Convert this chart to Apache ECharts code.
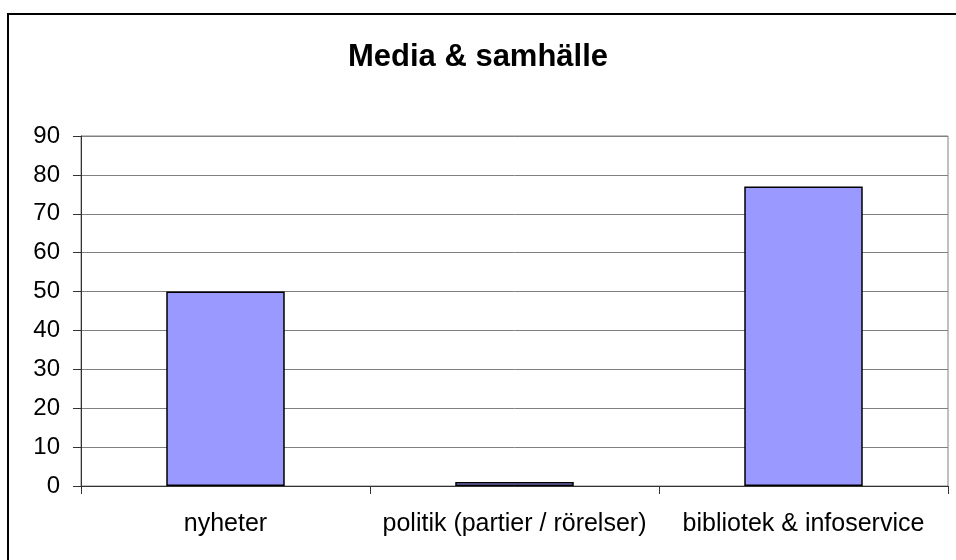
<!DOCTYPE html>
<html>
<head>
<meta charset="utf-8">
<script src="https://cdn.jsdelivr.net/npm/echarts@6/dist/echarts.min.js"></script>
<style>
  html, body { margin: 0; padding: 0; background: #fff; }
  #chart { width: 956px; height: 560px; }
</style>
</head>
<body>
<div id="chart"></div>
<script>
// Chart content
const chartTitle = 'Media & samhälle';
const categories = ['nyheter', 'politik (partier / rörelser)', 'bibliotek & infoservice'];
const values = [50, 1, 77];
const yTicks = [0, 10, 20, 30, 40, 50, 60, 70, 80, 90];

const FONT = '"Liberation Sans", Arial, sans-serif';

const chart = echarts.init(document.getElementById('chart'), null, { renderer: 'canvas' });

chart.setOption({
  backgroundColor: '#ffffff',
  animation: false,
  title: {
    text: chartTitle,
    left: 'center',
    top: 37,
    textStyle: { fontFamily: FONT, fontSize: 31, fontWeight: 'bold', color: '#000' }
  },
  graphic: [{
    // outer chart frame
    type: 'rect',
    shape: { x: 8, y: 14, width: 1000, height: 1000 },
    style: { fill: 'none', stroke: '#000', lineWidth: 2 },
    silent: true,
    z: 0
  }],
  grid: {
    left: 81, right: 8, top: 136, bottom: 74,
    show: true,
    borderColor: '#808080',
    borderWidth: 1,
    backgroundColor: 'transparent'
  },
  xAxis: {
    type: 'category',
    data: categories,
    axisLine: { lineStyle: { color: '#333', width: 1 } },
    axisTick: { show: true, length: 8, lineStyle: { color: '#333' } },
    axisLabel: { margin: 26, fontFamily: FONT, fontSize: 25, color: '#000', interval: 0 },
    splitLine: { show: false }
  },
  yAxis: {
    type: 'value',
    min: yTicks[0],
    max: yTicks[yTicks.length - 1],
    interval: yTicks[1] - yTicks[0],
    axisLine: { show: true, lineStyle: { color: '#333', width: 1 } },
    axisTick: { show: true, length: 8, lineStyle: { color: '#333' } },
    axisLabel: { margin: 21, fontFamily: FONT, fontSize: 24, color: '#000' },
    splitLine: { show: true, lineStyle: { color: '#808080', width: 1 } }
  },
  series: [{
    type: 'bar',
    data: values,
    barCategoryGap: '59%',
    itemStyle: { color: '#9999ff', borderColor: '#000', borderWidth: 1.5 }
  }]
});
</script>
</body>
</html>
